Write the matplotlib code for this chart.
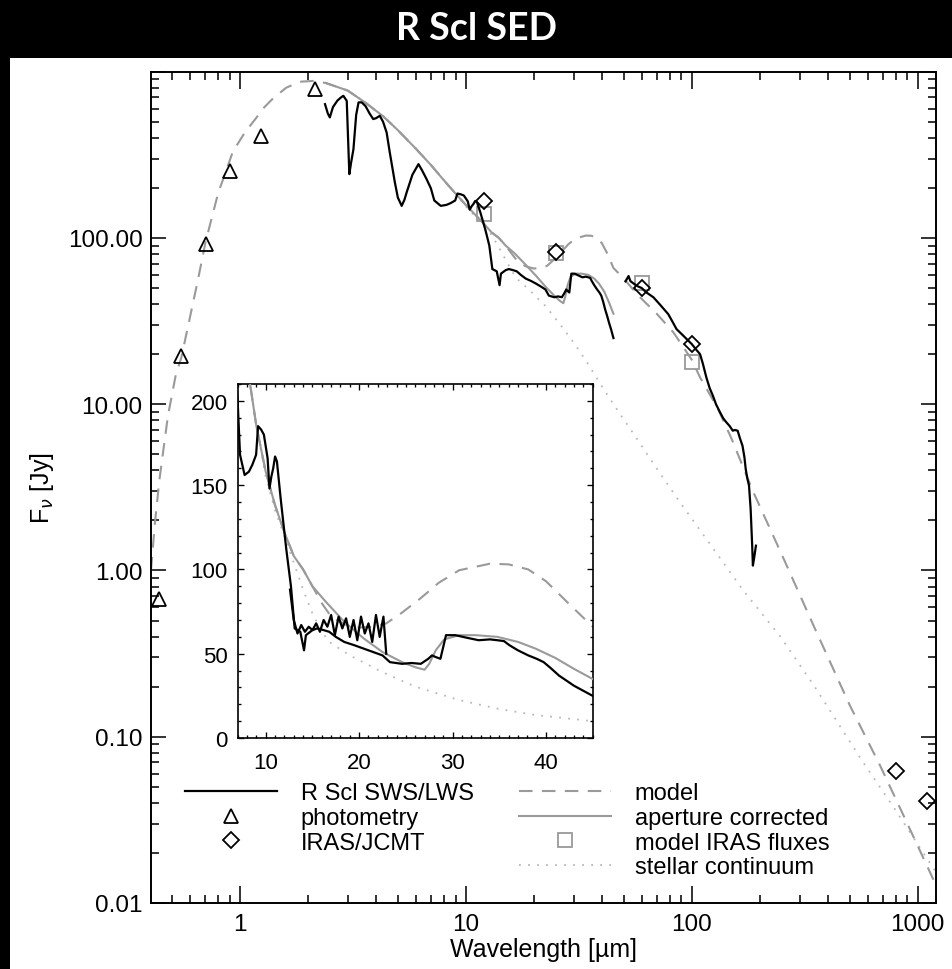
import matplotlib
matplotlib.use("Agg")
import matplotlib.pyplot as plt
from matplotlib.patches import Rectangle
from matplotlib.lines import Line2D
from matplotlib.ticker import LogLocator, FixedLocator, MultipleLocator, NullFormatter

plt.rcParams['font.family'] = ['Liberation Sans', 'DejaVu Sans']

# photometry (triangles)
lam_phot = [0.44, 0.548, 0.705, 0.903, 1.24, 2.16]
f_phot = [0.674, 19.5, 92, 254, 412, 785]

# IRAS / JCMT (diamonds)
lam_iras = [12, 25, 60, 100, 800, 1100]
f_iras = [166, 82, 50, 23, 0.062, 0.041]

# model IRAS fluxes (squares)
lam_miras = [12, 25, 60, 100]
f_miras = [140, 81, 53.3, 17.9]

# model SED (dashed)
lam_model = [0.404, 0.42, 0.44, 0.48, 0.52, 0.55, 0.60, 0.65, 0.705, 0.80, 0.93, 1.05,
             1.165, 1.28, 1.40, 1.6, 1.84, 2.1, 2.4, 3.0, 3.6, 4.3, 5.0, 6.0, 7.0, 8.0,
             9.0, 10, 11, 12, 13, 14, 15, 16, 17, 18.4, 20, 21.5, 22.9, 24.5, 26.6, 28.5,
             30.7, 34, 36, 38.1, 40, 42.2, 45, 50, 55, 59, 70, 83, 100, 108.8, 130, 150,
             187.5, 250, 346, 500, 682, 900, 1205]
f_model = [1.0, 1.9, 3.5, 8.5, 15, 19, 33, 55, 95, 185, 330, 430,
           515, 610, 690, 800, 870, 880, 855, 770, 650, 540, 445, 345, 275, 222,
           185, 158, 138, 122, 108, 100, 90, 80, 72, 67.5, 65.5, 66, 68, 74, 83, 92,
           99.5, 103.4, 103, 100, 93, 81, 66, 57, 49, 44, 35, 27, 18.5, 14.5, 9.5, 6.2,
           2.95, 1.25, 0.466, 0.155, 0.067, 0.030, 0.0128]

# aperture corrected model (solid grey)
lam_apc = [2.4, 3.0, 3.6, 4.3, 5.0, 6.0, 7.0, 8.0, 9.0, 10, 11, 12, 13, 14, 15, 16.4,
           18.4, 20.5, 22.5, 24.6, 26.0, 27.0, 27.5, 28.2, 29.1, 30.7, 32.5, 34.8, 37,
           38.9, 41, 43, 45]
f_apc = [855, 770, 650, 540, 445, 345, 275, 222, 185, 158, 138, 122, 108, 100, 90, 81,
         69, 59, 51, 45, 42, 40.5, 44, 52, 58.5, 61, 61, 60, 57,
         53, 47.5, 41, 35]

# stellar continuum (dotted)
lam_star = [2.4, 3.0, 3.6, 4.3, 5.0, 6.0, 7.0, 8.0,
            9.0, 10, 11, 12, 13, 14, 15, 16, 16.8, 19, 22.5, 26, 30.7, 35, 38.9, 45,
            55, 70, 88.7, 120, 170, 245, 350, 574, 800, 1205]
f_star = [855, 770, 650, 540, 445, 345, 275, 222,
          185, 155, 135, 120, 104, 88, 74, 63, 57, 49, 39, 30.5, 22.5, 17.2, 13.6, 10,
          6.7, 4.1, 2.57, 1.45, 0.75, 0.405, 0.20, 0.070, 0.036, 0.0153]

# R Scl SWS spectrum
lam_sws = [2.38, 2.45, 2.50, 2.58, 2.70, 2.80, 2.87, 2.97, 3.01, 3.05, 3.10, 3.18, 3.27,
           3.35, 3.46, 3.60, 3.75, 3.89, 4.00, 4.16, 4.30, 4.46, 4.60, 4.85, 5.00, 5.20,
           5.35, 5.47, 5.80, 6.17, 6.40, 6.70, 7.00, 7.25, 7.74, 8.20, 8.56, 8.97, 9.18,
           9.50, 9.80, 10.2, 10.4, 10.6, 10.8, 11.0, 11.2, 11.6, 12.2, 12.7, 13.1, 13.7,
           14.1, 14.3, 15.0, 15.5, 16.2, 16.8, 17.5, 18.4, 19.5, 20.5, 21.5, 22.5, 23.3,
           24.6, 25.6, 26.6, 27.4, 27.8, 28.2, 28.7, 29.3, 30.3, 31.5, 32.8, 34.0, 34.8,
           35.5, 36.1, 37.0, 38.1, 39.0, 39.75, 40.5, 41.4, 42.2, 43.0, 44.0, 45.0]
f_sws = [638, 560, 531, 612, 670, 700, 716, 668, 400, 242, 280, 342, 550,
         654, 654, 620, 560, 519, 525, 543, 500, 431, 330, 216, 175, 156,
         170, 188, 240, 278, 255, 226, 199, 168, 156, 158, 162, 168, 185,
         183, 180, 166, 148, 155, 160, 167, 164, 142, 112, 90, 65, 63,
         52, 61, 64, 65, 64, 63, 60, 57, 55, 53, 51, 49, 45,
         44, 44.5, 44, 47, 49, 48, 47, 61, 61, 59.5, 58, 58.5, 58,
         57.5, 55, 52, 49, 47, 45, 41.5, 37, 34, 31, 28, 25]

# overlapping noisy SWS band (inset only)
lam_band = [12.6, 13.0, 13.4, 13.8, 14.2, 14.6, 15.0, 15.4, 15.8, 16.2, 16.6, 17.0, 17.4,
            17.8, 18.2, 18.6, 19.0, 19.4, 19.8, 20.2, 20.6, 21.0, 21.4, 21.8, 22.2, 22.6, 22.9]
f_band = [88, 70, 62, 67, 63, 66, 64, 68, 63, 70, 66, 73, 61,
          72, 65, 71, 60, 70, 58, 72, 62, 68, 57, 73, 60, 72, 50]

# LWS spectrum
lam_lws = [50.9, 52.5, 53.5, 55.7, 58, 60, 63, 67.6, 72, 78.7, 82, 85.6, 90, 94.8, 100,
           104, 108.8, 112, 116, 120, 124, 128, 133.4, 138, 142.3, 147, 151.9, 155, 159.6,
           163, 167.7, 171, 173.3, 176, 179.2, 182.2, 185.1, 186.4, 189, 192.3]
f_lws = [54.8, 59, 55, 52.8, 51, 50, 47, 44, 40, 34.8, 31.5, 28.3, 26.5, 24.7, 23,
         21.5, 20, 17.5, 14.5, 12.5, 11.25, 10, 8.93, 8.2, 7.78, 7.4, 6.93, 7.0, 6.93,
         6.3, 5.62, 4.8, 4.07, 3.6, 3.24, 2.34, 1.41, 1.07, 1.2, 1.41]

GREY = '#9a9a9a'
DOT = '#b8b8b8'

W, H = 952, 970
fig = plt.figure(figsize=(W / 100, H / 100), dpi=100, facecolor='black')
fig.patches.append(Rectangle((10 / W, 0), 1, 911 / H, transform=fig.transFigure,
                             facecolor='white', edgecolor='none', zorder=-10))
fig.text(0.5, 1 - 29 / H, 'R Scl SED', color='white', fontsize=27, fontweight='bold',
         family=['Lato', 'DejaVu Sans'], ha='center', va='center')


def style_axes(a, major, minor, width, size):
    for s in a.spines.values():
        s.set_linewidth(width)
    a.tick_params(which='both', direction='in', top=True, right=True,
                  width=width * 0.8, labelsize=size)
    a.tick_params(which='major', length=major)
    a.tick_params(which='minor', length=minor)


# main panel
ax = fig.add_axes([151 / W, 66 / H, 785 / W, 831.3 / H])
ax.set_xscale('log')
ax.set_yscale('log')
ax.set_xlim(0.404, 1205)
ax.set_ylim(0.01, 1000)

ax.plot(lam_star, f_star, color=DOT, lw=1.3, linestyle=(0, (1, 4)), zorder=1)
ax.plot(lam_model, f_model, color=GREY, lw=1.5, linestyle=(0, (6.5, 4.5)), zorder=2)
ax.plot(lam_apc, f_apc, color=GREY, lw=1.5, zorder=3)
ax.plot(lam_miras, f_miras, 's', ms=10, mfc='none', mec=GREY, mew=1.3, zorder=4)
ax.plot(lam_sws, f_sws, color='black', lw=1.6, zorder=5)
ax.plot(lam_lws, f_lws, color='black', lw=1.6, zorder=5)
ax.plot(lam_phot, f_phot, '^', ms=10, mfc='none', mec='black', mew=1.3, zorder=6)
ax.plot(lam_iras, f_iras, 'D', ms=8, mfc='none', mec='black', mew=1.3, zorder=6)

ax.yaxis.set_major_locator(FixedLocator([0.01, 0.1, 1, 10, 100, 1000]))
ax.yaxis.set_major_formatter(lambda v, p: '%.2f' % v if v < 500 else '')
ax.yaxis.set_minor_locator(LogLocator(base=10, subs=range(2, 10)))
ax.yaxis.set_minor_formatter(NullFormatter())
ax.xaxis.set_major_locator(FixedLocator([1, 10, 100, 1000]))
ax.xaxis.set_major_formatter(lambda v, p: '%d' % v)
ax.xaxis.set_minor_locator(LogLocator(base=10, subs=range(2, 10)))
ax.xaxis.set_minor_formatter(NullFormatter())
style_axes(ax, 12, 6, 1.4, 17.5)
ax.tick_params(axis='y', which='major', length=11, pad=6)
ax.tick_params(axis='x', which='major', pad=7)

ax.set_xlabel('Wavelength [\u00b5m]', fontsize=18, labelpad=1.5)
ax.set_ylabel(r'F$_\nu$ [Jy]', fontsize=18)
ax.yaxis.set_label_coords(-0.121, 0.5)

# legends
h1 = [Line2D([], [], color='black', lw=1.6),
      Line2D([], [], ls='none', marker='^', ms=10, mfc='none', mec='black', mew=1.3),
      Line2D([], [], ls='none', marker='D', ms=8, mfc='none', mec='black', mew=1.3)]
l1 = ['R Scl SWS/LWS', 'photometry', 'IRAS/JCMT']
h2 = [Line2D([], [], color=GREY, lw=1.5, linestyle=(0, (6.5, 4.5))),
      Line2D([], [], color=GREY, lw=1.5),
      Line2D([], [], ls='none', marker='s', ms=10, mfc='none', mec=GREY, mew=1.3),
      Line2D([], [], color=DOT, lw=1.3, linestyle=(0, (1, 4)))]
l2 = ['model', 'aperture corrected', 'model IRAS fluxes', 'stellar continuum']
leg_kw = dict(loc='upper left', bbox_transform=fig.transFigure, frameon=False,
              fontsize=17, handlelength=3.9, handletextpad=1.0, labelspacing=0.12,
              borderpad=0, borderaxespad=0, numpoints=1)
leg1 = ax.legend(h1, l1, bbox_to_anchor=(185 / W, 1 - 783 / H), **leg_kw)
ax.add_artist(leg1)
ax.legend(h2, l2, bbox_to_anchor=(519 / W, 1 - 783 / H), **leg_kw)

# inset
ax2 = fig.add_axes([237.7 / W, 231 / H, 355 / W, 354 / H])
ax2.set_xlim(7, 45)
ax2.set_ylim(0, 210)
ax2.plot(lam_star, f_star, color=DOT, lw=1.3, linestyle=(0, (1, 4)), zorder=1)
ax2.plot(lam_model, f_model, color=GREY, lw=1.5, linestyle=(0, (6.5, 4.5)), zorder=2)
ax2.plot(lam_apc, f_apc, color=GREY, lw=1.5, zorder=3)
ax2.plot(lam_sws, f_sws, color='black', lw=1.6, zorder=5)
ax2.plot(lam_band, f_band, color='black', lw=1.6, zorder=5)
ax2.xaxis.set_major_locator(MultipleLocator(10))
ax2.xaxis.set_minor_locator(MultipleLocator(1))
ax2.yaxis.set_major_locator(MultipleLocator(50))
ax2.yaxis.set_minor_locator(MultipleLocator(10))
style_axes(ax2, 4.5, 2.4, 1.2, 16)
ax2.tick_params(axis='y', which='major', pad=7)
ax2.tick_params(axis='x', which='major', pad=10)

fig.savefig('out.png', dpi=100, facecolor='black')
